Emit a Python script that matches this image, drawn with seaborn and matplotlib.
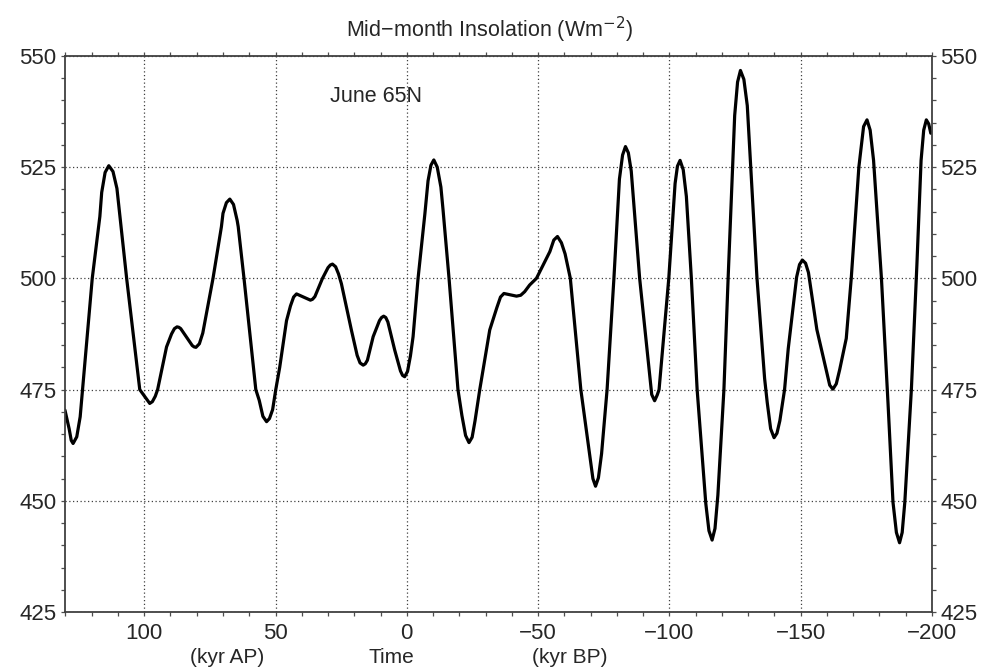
import matplotlib
matplotlib.use("Agg")
import pandas as pd
import matplotlib.pyplot as plt
from matplotlib.ticker import MultipleLocator
import seaborn as sns

# June 65N mid-month insolation (kyr, W/m2)
time_kyr = [
    130.2, 128.6, 127.8, 127.1, 125.7, 124.4, 123.5, 119.8, 116.9, 116.2,
    114.9, 113.5, 111.9, 110.4, 106.7, 101.7, 99.5, 97.9, 96.9, 95.8,
    94.9, 91.5, 89.6, 88.5, 87.5, 86.8, 86.1, 83.9, 81.7, 81.0,
    80.3, 79.0, 77.7, 73.8, 70.6, 70.0, 68.7, 67.4, 66.0, 64.6,
    64.2, 62.0, 57.5, 56.2, 54.8, 53.4, 52.3, 51.1, 49.9, 48.4,
    45.8, 44.3, 43.1, 42.0, 39.3, 36.7, 35.9, 35.0, 32.1, 30.0,
    29.1, 28.3, 27.1, 26.0, 24.9, 21.1, 18.9, 17.8, 16.6, 15.8,
    15.0, 12.8, 10.4, 9.6, 8.8, 8.0, 7.2, 4.6, 2.4, 1.6,
    0.8, -0.3, -1.4, -2.4, -4.3, -6.9, -8.1, -9.2, -10.3, -11.6,
    -13.0, -13.8, -16.1, -19.5, -21.0, -22.4, -23.7, -24.9, -26.0, -27.8,
    -31.6, -34.3, -35.7, -37.0, -39.4, -41.8, -43.4, -44.9, -46.8, -49.4,
    -54.5, -56.0, -57.4, -58.9, -60.3, -62.3, -66.3, -69.4, -70.9, -71.9,
    -73.0, -74.2, -76.3, -78.9, -81.0, -81.6, -82.2, -83.3, -84.4, -85.5,
    -88.7, -91.9, -93.3, -94.4, -95.4, -96.1, -99.8, -102.2, -103.1, -104.1,
    -105.3, -106.5, -108.4, -110.6, -113.9, -115.1, -116.3, -117.4, -118.5, -120.8,
    -122.4, -124.9, -126.0, -127.1, -128.4, -129.7, -133.4, -136.3, -137.3, -138.6,
    -139.9, -141.0, -142.1, -143.9, -145.3, -148.5, -149.6, -150.7, -151.9, -153.0,
    -156.2, -160.0, -161.1, -162.3, -163.6, -164.9, -167.4, -169.3, -172.2, -174.0,
    -175.3, -176.5, -177.8, -180.8, -183.3, -185.2, -186.5, -187.7, -188.7, -189.7,
    -192.2, -194.3, -195.9, -196.9, -197.9, -198.8, -199.6,
]
insolation = [
    470.4, 466.2, 463.6, 462.9, 464.4, 468.9, 475.0, 500.0, 513.9, 519.3,
    523.8, 525.3, 524.0, 520.2, 500.0, 475.0, 473.2, 471.9, 472.3, 473.5,
    475.0, 484.6, 487.5, 488.7, 489.1, 489.0, 488.7, 486.8, 484.9, 484.6,
    484.5, 485.3, 487.7, 500.0, 511.6, 514.6, 517.0, 517.8, 516.6, 513.0,
    511.6, 500.0, 475.0, 472.6, 469.0, 467.8, 468.5, 470.5, 475.0, 480.0,
    490.5, 493.8, 495.8, 496.5, 495.8, 495.1, 495.3, 495.9, 500.0, 502.4,
    503.0, 503.2, 502.6, 501.0, 498.8, 488.4, 482.7, 481.0, 480.5, 480.8,
    481.6, 486.9, 490.5, 491.2, 491.5, 491.2, 490.2, 483.9, 479.2, 478.2,
    477.9, 479.1, 482.6, 486.9, 500.0, 514.5, 521.9, 525.4, 526.6, 525.0,
    520.5, 515.5, 500.0, 475.0, 469.2, 464.7, 463.1, 464.3, 468.0, 475.0,
    488.4, 493.4, 495.8, 496.6, 496.3, 496.0, 496.2, 497.0, 498.5, 500.0,
    506.0, 508.6, 509.4, 508.0, 505.5, 500.0, 475.0, 461.4, 455.0, 453.3,
    455.2, 460.6, 475.0, 500.0, 522.3, 525.0, 527.7, 529.6, 528.2, 524.1,
    500.0, 482.0, 473.9, 472.5, 473.8, 475.0, 500.0, 521.3, 525.2, 526.5,
    524.4, 518.4, 500.0, 475.0, 449.4, 443.3, 441.2, 443.8, 451.3, 475.0,
    500.0, 536.6, 544.1, 546.7, 544.7, 538.8, 500.0, 477.5, 472.1, 466.2,
    464.2, 465.2, 468.0, 475.0, 484.2, 500.3, 503.1, 504.1, 503.4, 501.3,
    488.5, 478.8, 476.0, 475.1, 476.3, 479.5, 486.5, 500.0, 525.0, 534.1,
    535.6, 533.3, 526.5, 500.0, 472.0, 449.7, 442.9, 440.6, 442.9, 449.7,
    475.0, 503.0, 526.5, 533.3, 535.6, 534.7, 532.6,
]

x_ticks = [100, 50, 0, -50, -100, -150, -200]
y_ticks = [425, 450, 475, 500, 525, 550]

sns.set_style("ticks")
plt.rcParams["font.family"] = ["Liberation Sans", "DejaVu Sans"]

df = pd.DataFrame({"time": time_kyr, "insolation": insolation})

fig = plt.figure(figsize=(9.84, 6.72), dpi=100)
ax = fig.add_axes([0.066, 0.089, 0.881, 0.828])

sns.lineplot(data=df, x="time", y="insolation", sort=False, estimator=None,
             color="black", linewidth=2.3, solid_joinstyle="round", ax=ax)

ax.set_xlim(130.2, -200)
ax.set_ylim(425, 550)
ax.set_xticks(x_ticks)
ax.set_yticks(y_ticks)
ax.xaxis.set_minor_locator(MultipleLocator(10))
ax.yaxis.set_minor_locator(MultipleLocator(5))
ax.set_xlabel("")
ax.set_ylabel("")

ax.grid(True, which="major", linestyle=(0, (1, 2)), color="0.25", linewidth=0.9)
ax.tick_params(which="both", direction="out", top=True, right=True,
               labelright=True, length=3, width=0.9, color="0.3",
               labelsize=16, pad=3)
ax.tick_params(axis="x", which="major", pad=5)
for side in ["top", "bottom", "left", "right"]:
    ax.spines[side].set_visible(True)
    ax.spines[side].set_color("0.25")
    ax.spines[side].set_linewidth(1.3)

ax.text(29.3, 540.8, "June 65N", fontsize=15.5, ha="left", va="center")

fig.text(0.497, 0.955, "Mid\u2212month Insolation (Wm$^{-2}$)", fontsize=15.5,
         ha="center", va="center")
fig.text(0.231, 0.022, "(kyr AP)", fontsize=15, ha="center", va="center")
fig.text(0.398, 0.022, "Time", fontsize=15, ha="center", va="center")
fig.text(0.579, 0.022, "(kyr BP)", fontsize=15, ha="center", va="center")

fig.savefig("out.png", dpi=100)
